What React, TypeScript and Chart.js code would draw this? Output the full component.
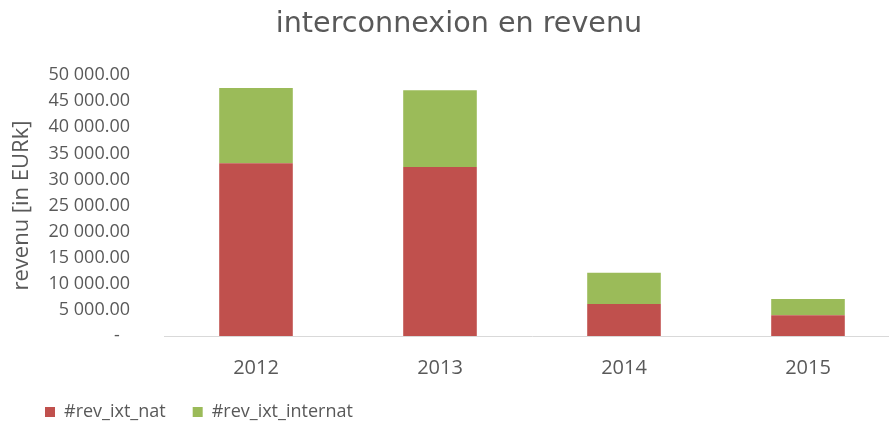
import React, { useEffect, useRef } from "react";
import { Chart, registerables } from "chart.js";

Chart.register(...registerables);

const categories = ["2012", "2013", "2014", "2015"];
const revIxtNat = [33100, 32400, 6150, 4000];
const revIxtInternat = [14450, 14700, 5950, 3100];
const yTickMin = 0;
const yTickMax = 50000;
const yTickStep = 5000;

const GREY = "#595959";

function fmt(v: number): string {
  if (v === 0) return "-\u2007";
  const s = v.toFixed(2);
  const [i, d] = s.split(".");
  return i.replace(/\B(?=(\d{3})+(?!\d))/g, " ") + "." + d;
}

export default function App() {
  const ref = useRef<HTMLCanvasElement | null>(null);
  useEffect(() => {
    if (!ref.current) return;
    const chart = new Chart(ref.current, {
      type: "bar",
      data: {
        labels: categories,
        datasets: [
          {
            label: "#rev_ixt_nat",
            data: revIxtNat,
            backgroundColor: "#C0504D",
            barPercentage: 0.4,
            categoryPercentage: 1,
          },
          {
            label: "#rev_ixt_internat",
            data: revIxtInternat,
            backgroundColor: "#9BBB59",
            barPercentage: 0.4,
            categoryPercentage: 1,
          },
        ],
      },
      options: {
        responsive: false,
        animation: false,
        layout: { padding: { left: 18, right: 30, top: 0, bottom: -8 } },
        plugins: {
          title: {
            display: true,
            text: "interconnexion en revenu",
            color: GREY,
            font: { family: "'DejaVu Sans'", size: 28.6, weight: "normal" },
            padding: { top: 7, bottom: 33.8 },
          },
          legend: {
            position: "bottom",
            align: "start",
            labels: {
              boxWidth: 10,
              boxHeight: 10,
              padding: 27,
              color: GREY,
              font: { family: "'Open Sans'", size: 18 },
            },
          },
          tooltip: { enabled: false },
        },
        scales: {
          x: {
            stacked: true,
            grid: { display: false, drawTicks: false },
            border: { display: true, color: "#d9d9d9", width: 1 },
            ticks: {
              color: GREY,
              padding: 20,
              font: { family: "'Open Sans'", size: 20 },
            },
            afterFit: (s: any) => {
              s.height = 40;
            },
          },
          y: {
            stacked: true,
            min: yTickMin,
            max: yTickMax,
            grid: { display: false, drawTicks: false },
            border: { display: false },
            ticks: {
              stepSize: yTickStep,
              color: GREY,
              padding: 34,
              font: { family: "'Open Sans'", size: 18 },
              callback: (v: any) => fmt(Number(v)),
            },
            title: {
              display: true,
              text: "revenu [in EURk]",
              color: GREY,
              font: { family: "'Open Sans'", size: 22 },
              padding: { top: -9, bottom: 0 },
            },
            afterFit: (s: any) => {
              s.width = 146;
            },
          },
        },
      },
    });
    return () => chart.destroy();
  }, []);
  return (
    <div
      style={{
        position: "absolute",
        left: 0,
        top: 0,
        width: 889,
        height: 423,
        overflow: "hidden",
        background: "#fff",
      }}
    >
      <canvas ref={ref} width={930} height={423} style={{ display: "block" }} />
    </div>
  );
}
